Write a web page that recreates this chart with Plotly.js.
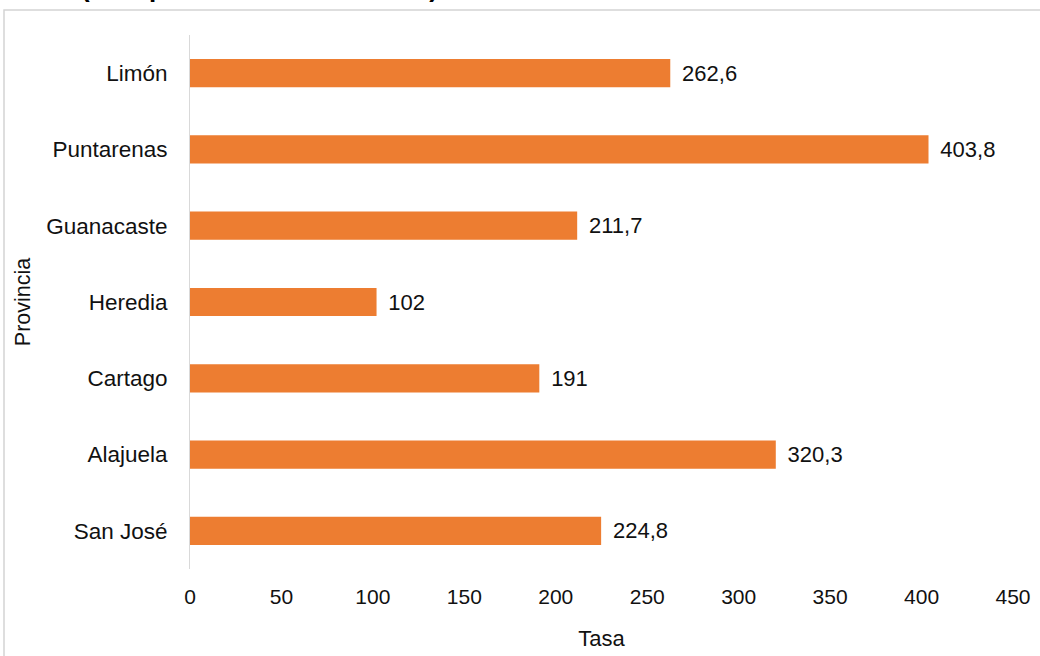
<!DOCTYPE html>
<html>
<head>
<meta charset="utf-8">
<script src="https://cdn.plot.ly/plotly-3.0.1.min.js"></script>
<style>
  html, body { margin: 0; padding: 0; background: #fff; }
  #chart { width: 1040px; height: 656px; }
</style>
</head>
<body>
<div id="chart"></div>
<script>
const provincias = ["San José", "Alajuela", "Cartago", "Heredia", "Guanacaste", "Puntarenas", "Limón"];
const tasas = [224.8, 320.3, 191, 102, 211.7, 403.8, 262.6];
const xTicks = [0, 50, 100, 150, 200, 250, 300, 350, 400, 450];
const titleText = "(tasa por 100.000 habitantes)";

const FONT = "Arial, 'Liberation Sans', sans-serif";
const labels = tasas.map(v => "\u2009\u2009" + String(v).replace(".", ","));

const trace = {
  type: "bar",
  orientation: "h",
  y: provincias,
  x: tasas,
  text: labels,
  textposition: "outside",
  cliponaxis: false,
  textfont: { family: FONT, size: 22, color: "#111" },
  marker: { color: "#ED7D31" },
  width: 0.37,
  hoverinfo: "x+y"
};

const layout = {
  width: 1040,
  height: 656,
  margin: { l: 190, r: 27, t: 35, b: 87, pad: 0 },
  paper_bgcolor: "#fff",
  plot_bgcolor: "#fff",
  showlegend: false,
  font: { family: FONT, size: 22, color: "#111" },
  xaxis: {
    range: [0, 450],
    tickvals: xTicks,
    ticktext: xTicks.map(String),
    showgrid: false,
    zeroline: false,
    showline: false,
    ticks: "outside",
    ticklen: 9,
    tickcolor: "rgba(0,0,0,0)",
    tickfont: { family: FONT, size: 21, color: "#111" },
    title: { text: "Tasa", font: { family: FONT, size: 22, color: "#111" }, standoff: 23 },
    automargin: false,
    fixedrange: true
  },
  yaxis: {
    type: "category",
    categoryorder: "array",
    categoryarray: provincias,
    showgrid: false,
    zeroline: false,
    showline: true,
    linecolor: "#d9d9d9",
    linewidth: 1,
    ticks: "outside",
    ticklen: 17,
    tickcolor: "rgba(0,0,0,0)",
    tickfont: { family: FONT, size: 22.5, color: "#111" },
    title: { text: "Provincia", font: { family: FONT, size: 21.5, color: "#111" }, standoff: 9 },
    automargin: false,
    fixedrange: true
  },
  shapes: [
    {
      type: "rect", xref: "paper", yref: "paper",
      x0: -0.226, x1: 1.2, y0: -0.3, y1: 1.0468,
      line: { color: "#d4d4d4", width: 1.5 },
      fillcolor: "rgba(0,0,0,0)",
      layer: "below"
    }
  ],
  annotations: [
    {
      text: "<b>" + titleText + "</b>",
      xref: "paper", yref: "paper",
      x: -0.135, y: 1.056,
      xanchor: "left", yanchor: "bottom",
      showarrow: false,
      font: { family: FONT, size: 26, color: "#000" }
    }
  ]
};

Plotly.newPlot("chart", [trace], layout, { displayModeBar: false, staticPlot: true });
</script>
</body>
</html>
